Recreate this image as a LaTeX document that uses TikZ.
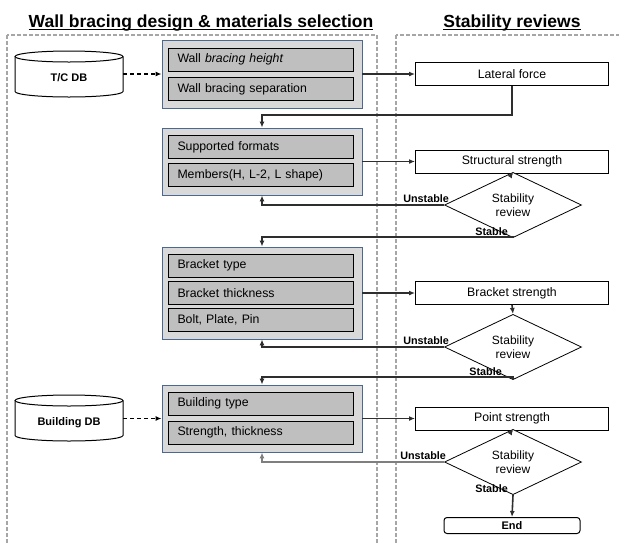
\documentclass[tikz,border=0pt]{standalone}
\usepackage{fontspec}
\setmainfont{Liberation Sans}
\usetikzlibrary{arrows.meta,shapes.geometric}

\definecolor{lanegray}{HTML}{A6A6A6}
\definecolor{groupfill}{HTML}{D9D9D9}
\definecolor{groupedge}{HTML}{4A6890}
\definecolor{itemfill}{HTML}{BFBFBF}
\definecolor{linedark}{HTML}{2E2E2E}
\definecolor{linegray}{HTML}{7F7F7F}

\begin{document}
\begin{tikzpicture}[x=1pt,y=-1pt,
  lane/.style={draw=lanegray, line width=1.4pt, dash pattern=on 4pt off 2pt},
  title/.style={font=\fontsize{17.5}{20}\selectfont\bfseries, inner sep=0pt, anchor=base},
  group/.style={draw=groupedge, fill=groupfill, line width=0.9pt, minimum width=200pt, inner sep=0pt},
  item/.style={draw=black, fill=itemfill, line width=0.8pt, minimum width=185pt, minimum height=23pt,
    inner sep=0pt, text width=166pt, align=left, font=\fontsize{12.3}{14}\selectfont},
  check/.style={draw=black, fill=white, line width=1pt, minimum width=193pt, minimum height=23pt,
    inner sep=0pt, font=\fontsize{12.3}{14}\selectfont},
  review/.style={diamond, draw=black, fill=white, line width=0.8pt, minimum width=137pt, minimum height=44pt,
    inner sep=0pt, align=center, font=\fontsize{12}{14.5}\selectfont},
  endbox/.style={draw=black, fill=white, line width=1pt, rounded corners=3pt, minimum width=136pt,
    minimum height=16pt, inner sep=0pt, font=\fontsize{11}{12}\selectfont\bfseries},
  dbtext/.style={minimum width=108pt, minimum height=46pt, inner sep=0pt},
  dblabel/.style={font=\fontsize{11}{13}\selectfont\bfseries, inner sep=0pt},
  drum/.style={draw=black, fill=white, line width=1pt},
  flow/.style={draw=linedark, line width=1.6pt, -{Latex[length=6pt,width=5pt]}},
  feed/.style={draw=black, line width=1.4pt, dash pattern=on 4pt off 3pt, -{Latex[length=6pt,width=5pt]}},
  verdict/.style={font=\fontsize{10.8}{12}\selectfont\bfseries, inner sep=0pt},
]
\path[use as bounding box] (0,0) rectangle (619,542);

% swim lanes
\begin{scope}
  \clip (0,0) rectangle (619,542);
  \draw[lane] (7,35) rectangle (377,560);
  \draw[lane] (396,35) rectangle (640,560);
\end{scope}

% lane titles
\node[title] (tleft) at (201,27) {Wall bracing design \& materials selection};
\node[title] (tright) at (512,27) {Stability reviews};
\draw[line width=1.1pt] ([yshift=-2.8pt]tleft.base west) -- ([yshift=-2.8pt]tleft.base east);
\draw[line width=1.1pt] ([yshift=-2.8pt]tright.base west) -- ([yshift=-2.8pt]tright.base east);

% databases
\node[dbtext] (tcdb) at (69,74) {};
\draw[drum] (15,56.5) -- (15,91.5) arc[start angle=180, end angle=360, x radius=54pt, y radius=5.5pt] -- (123,56.5);
\draw[drum] (69,56.5) ellipse [x radius=54pt, y radius=5.5pt];
\node[dblabel] (tcdbname) at (69,78) {T/C DB};

\node[dbtext] (bdb) at (69,418.5) {};
\draw[drum] (15,400.5) -- (15,435.5) arc[start angle=180, end angle=360, x radius=54pt, y radius=5.5pt] -- (123,400.5);
\draw[drum] (69,400.5) ellipse [x radius=54pt, y radius=5.5pt];
\node[dblabel] (bdbname) at (69,422.5) {Building DB};

% design groups
\node[group, minimum height=68pt] (g1) at (262,74) {};
\node[item] (wbh) at (260.5,59.5) {Wall \textit{bracing height}};
\node[item] (wbs) at (260.5,89) {Wall bracing separation};

\node[group, minimum height=67pt] (g2) at (262,161.5) {};
\node[item] (sf) at (260.5,147) {Supported formats};
\node[item] (mem) at (260.5,175) {Members(H, L-2, L shape)};

\node[group, minimum height=92pt] (g3) at (262,293) {};
\node[item] (bt) at (260.5,265.5) {Bracket type};
\node[item] (bth) at (260.5,293) {Bracket thickness};
\node[item] (bpp) at (260.5,320) {Bolt, Plate, Pin};

\node[group, minimum height=67pt] (g4) at (262,418.5) {};
\node[item] (by) at (260.5,403.5) {Building type};
\node[item] (st) at (260.5,432.5) {Strength, thickness};

% review column
\node[check] (lat) at (512,74) {Lateral force};
\node[check] (ss) at (512,161.5) {Structural strength};
\node[review] (d1) at (513,205) {Stability\\review};
\node[check] (bs) at (512,293) {Bracket strength};
\node[review] (d2) at (513,347) {Stability\\review};
\node[check] (ps) at (512,418.5) {Point strength};
\node[review] (d3) at (513,462) {Stability\\review};
\node[endbox] (end) at (512,525.5) {End};

% routing rows
\coordinate (row1) at (0,115);
\coordinate (row2) at (0,237);
\coordinate (row3) at (0,377);

% database feeds
\draw[feed] (tcdb.east) -- (g1.west);
\draw[feed] (bdb.east) -- (g4.west);

% forward flow
\draw[flow] (g1.east) -- (lat.west);
\draw[flow] (lat.south) -- (lat.south |- row1) -| (g2.north);
\draw[flow] (g2.east) -- (ss.west);
\draw[flow] (ss.south) -- (d1.north);
\draw[flow] (d1.south) -- (d1.south |- row2) -| (g3.north);
\draw[flow] (g3.east) -- (bs.west);
\draw[flow] (bs.south) -- (d2.north);
\draw[flow] (d2.south) -- (d2.south |- row3) -| (g4.north);
\draw[flow] (g4.east) -- (ps.west);
\draw[flow] (ps.south) -- (d3.north);
\draw[flow] (d3.south) -- (end.north);

% rework loops
\draw[flow] (d1.west) -| (g2.south);
\draw[flow] (d2.west) -| (g3.south);
\draw[flow, draw=linegray] (d3.west) -| (g4.south);

% verdict labels
\node[verdict, anchor=south east] (u1) at ([xshift=5pt,yshift=2pt]d1.west) {Unstable};
\node[verdict, anchor=south east] (u2) at ([xshift=5pt,yshift=2pt]d2.west) {Unstable};
\node[verdict, anchor=south east] (u3) at ([xshift=2pt,yshift=2pt]d3.west) {Unstable};
\node[verdict, anchor=south east] (s1) at (508,235.5) {Stable};
\node[verdict, anchor=south east] (s2) at (502,375.5) {Stable};
\node[verdict, anchor=north east] (s3) at (508,484) {Stable};
\end{tikzpicture}
\end{document}
